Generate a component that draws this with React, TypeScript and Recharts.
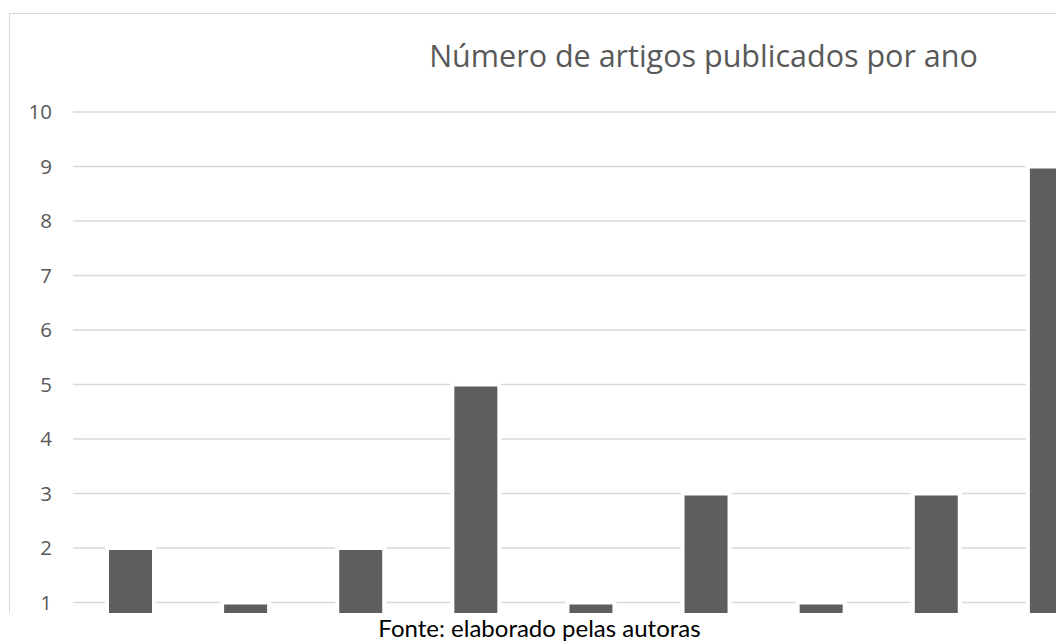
import { BarChart, Bar, XAxis, YAxis, CartesianGrid } from 'recharts'

// rótulos do eixo X ficam fora da área recortada da imagem
const categorias = ['1', '2', '3', '4', '5', '6', '7', '8', '9']
const artigos = [2, 1, 2, 5, 1, 3, 1, 3, 9]
const ticksY = [1, 2, 3, 4, 5, 6, 7, 8, 9, 10]

const titulo = 'Número de artigos publicados por ano'
const fonte = 'Fonte: elaborado pelas autoras'

const data = categorias.map((c, i) => ({ ano: c, artigos: artigos[i] }))

export default function App() {
  return (
    <div
      style={{
        position: 'absolute',
        left: 0,
        top: 0,
        width: 1056,
        height: 642,
        overflow: 'hidden',
        background: '#fff',
      }}
    >
      {/* área do gráfico, cortada embaixo e à direita como no original */}
      <div style={{ position: 'absolute', left: 0, top: 0, width: 1056, height: 613, overflow: 'hidden' }}>
        <div
          style={{
            position: 'absolute',
            left: 9,
            top: 13,
            width: 1400,
            height: 800,
            border: '1px solid #d9d9d9',
            boxSizing: 'border-box',
          }}
        />
        <div
          style={{
            position: 'absolute',
            left: 0,
            top: 40,
            width: 1407,
            textAlign: 'center',
            fontFamily: '"Open Sans", sans-serif',
            fontSize: 30.5,
            lineHeight: 1,
            color: '#595959',
            whiteSpace: 'nowrap',
          }}
        >
          {titulo}
        </div>
        <div style={{ position: 'absolute', left: 0, top: 0 }}>
          <BarChart
            width={1109}
            height={657}
            data={data}
            margin={{ top: 112, right: 0, bottom: 0, left: 0 }}
          >
            <CartesianGrid vertical={false} stroke="#d9d9d9" strokeWidth={1.3} />
            <XAxis dataKey="ano" hide />
            <YAxis
              width={73}
              domain={[0, 10]}
              ticks={ticksY}
              axisLine={false}
              tickLine={false}
              tickMargin={15}
              tick={{ fill: '#595959', fontSize: 20.5, fontFamily: '"Open Sans", sans-serif' }}
            />
            <Bar
              dataKey="artigos"
              fill="#5e5e5e"
              stroke="#ffffff"
              strokeWidth={4}
              barSize={47}
              isAnimationActive={false}
            />
          </BarChart>
        </div>
      </div>
      <div
        style={{
          position: 'absolute',
          left: 0,
          top: 616,
          width: 1079,
          textAlign: 'center',
          fontFamily: 'Lato, sans-serif',
          fontSize: 24,
          lineHeight: 1,
          color: '#000',
          whiteSpace: 'nowrap',
        }}
      >
        {fonte}
      </div>
    </div>
  )
}
